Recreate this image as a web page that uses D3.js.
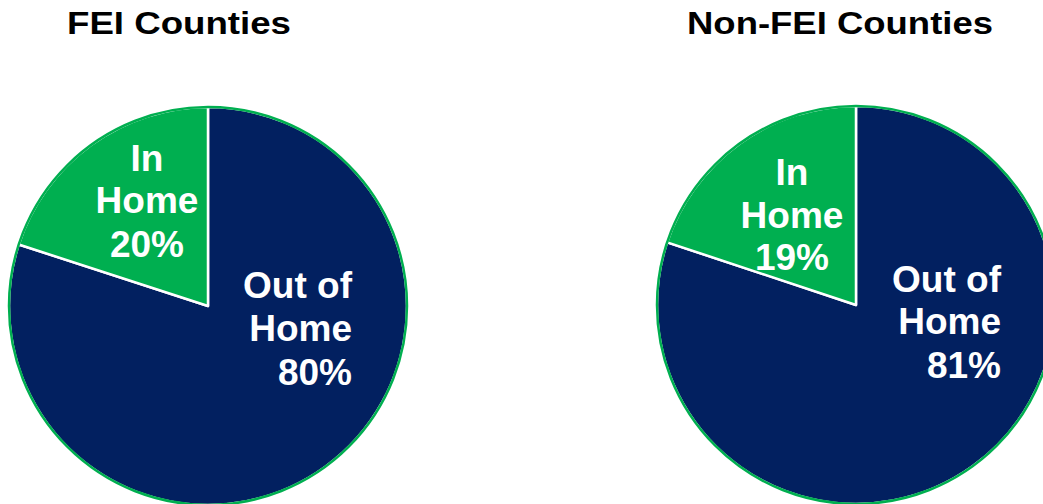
<!DOCTYPE html>
<html>
<head>
<meta charset="utf-8">
<script src="https://cdn.jsdelivr.net/npm/d3@7.9.0/dist/d3.min.js"></script>
<style>
  body { margin: 0; background: #fff; overflow: hidden; }
  svg { display: block; font-family: Arial, "Liberation Sans", sans-serif; font-weight: bold; }
</style>
</head>
<body>
<svg id="chart" width="1043" height="504"></svg>
<script>
// data
const titles = ['FEI Counties', 'Non-FEI Counties'];
const categories = ['Out of Home', 'In Home'];
// wedge sizes as drawn in the picture
const feiValues = [80, 20];
const nonFeiValues = [80.1, 19.9];
// printed percentages
const feiLabels = ['80%', '20%'];
const nonFeiLabels = ['81%', '19%'];

const navy = '#022060';
const green = '#00AF50';

// layout for each pie (not data)
const pies = [
    { title: titles[0], values: feiValues, labels: feiLabels, cx: 208, cy: 306, titleX: 179, titleW: 224,
      inLabel: { x: 147, y: [171, 213, 257] }, outLabel: { x: 352, y: [298, 341, 385] } },
    { title: titles[1], values: nonFeiValues, labels: nonFeiLabels, cx: 856, cy: 305, titleX: 840, titleW: 306,
      inLabel: { x: 792, y: [185, 228, 270] }, outLabel: { x: 1001, y: [292, 334, 378] } }
];

const radius = 199;
const svg = d3.select('#chart');

const pie = d3.pie().sort(null).value(d => d.value);
const arc = d3.arc().innerRadius(0).outerRadius(radius);

pies.forEach(p => {
    const data = categories.map((c, i) => ({ name: c, value: p.values[i] }));
    const g = svg.append('g').attr('transform', `translate(${p.cx},${p.cy})`);

    g.selectAll('path.slice')
        .data(pie(data))
        .join('path')
        .attr('class', 'slice')
        .attr('d', arc)
        .attr('fill', d => d.data.name === 'In Home' ? green : navy)
        .attr('stroke', '#fff')
        .attr('stroke-width', 2.5)
        .attr('stroke-linejoin', 'round');

    // green outline round the pie
    g.append('circle')
        .attr('r', radius)
        .attr('fill', 'none')
        .attr('stroke', green)
        .attr('stroke-width', 2.5);

    // title
    svg.append('text')
        .attr('x', p.titleX)
        .attr('y', 34)
        .attr('text-anchor', 'middle')
        .attr('font-size', 32)
        .attr('textLength', p.titleW)
        .attr('lengthAdjust', 'spacingAndGlyphs')
        .attr('fill', '#000')
        .text(p.title);

    // labels
    const inLines = ['In', 'Home', p.labels[1]];
    svg.append('g').selectAll('text')
        .data(inLines)
        .join('text')
        .attr('x', p.inLabel.x)
        .attr('y', (d, i) => p.inLabel.y[i])
        .attr('text-anchor', 'middle')
        .attr('font-size', 37)
        .attr('fill', '#fff')
        .text(d => d);

    const outLines = ['Out of', 'Home', p.labels[0]];
    svg.append('g').selectAll('text')
        .data(outLines)
        .join('text')
        .attr('x', p.outLabel.x)
        .attr('y', (d, i) => p.outLabel.y[i])
        .attr('text-anchor', 'end')
        .attr('font-size', 37)
        .attr('fill', '#fff')
        .text(d => d);
});
</script>
</body>
</html>
